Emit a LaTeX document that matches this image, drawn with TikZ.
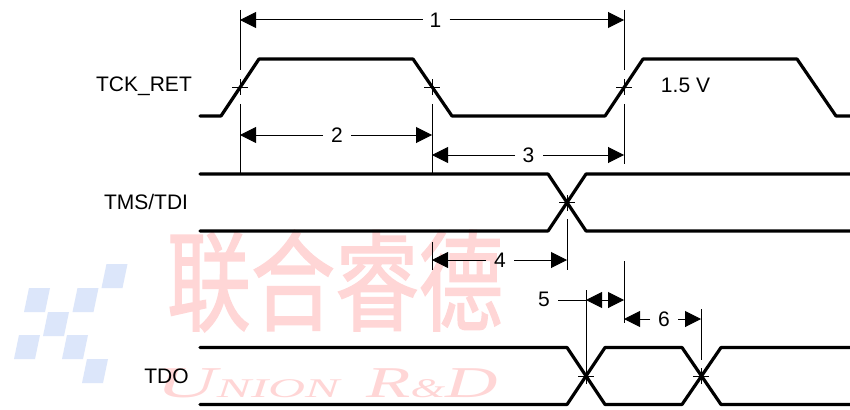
\documentclass[tikz,border=0pt]{standalone}
\usepackage{fontspec}
\setmainfont{Liberation Sans}
\newfontfamily\cjkwm[FakeBold=1.6]{Noto Sans CJK SC}
\newfontfamily\serifwm{Liberation Serif}
\usetikzlibrary{arrows.meta}
\definecolor{wmred}{HTML}{FFD6D6}
\definecolor{wmblue}{HTML}{DCE6FA}
\tikzset{
  wave/.style={line width=3.2pt,line join=round,line cap=round,black},
  thin line/.style={line width=1pt,black},
  tick/.style={line width=0.8pt,black},
  dim/.style={line width=1pt,black,-{Triangle[length=16pt,width=16pt]}},
  lab/.style={font=\fontsize{21}{24}\selectfont,inner sep=0pt,text=black},
  block/.style={fill=wmblue,draw=none},
}
\newcommand{\blockat}[2]{\fill[block] (#1,#2+24) -- ++(21,0) -- ++(5,-24) -- ++(-21,0) -- cycle;}
\newcommand{\tickat}[1]{\draw[tick] ([xshift=-8pt]#1) -- ([xshift=8pt]#1) ([yshift=-8pt]#1) -- ([yshift=8pt]#1);}
\begin{document}
\begin{tikzpicture}[x=1pt,y=-1pt]
\useasboundingbox[fill=white] (0,0) rectangle (850,409);
% watermark
\blockat{101.5}{264}
\blockat{24}{288}
\blockat{72.5}{288}
\blockat{43}{312}
\blockat{14}{335}
\blockat{62}{335}
\blockat{82}{359}
\node[text=wmred,font=\cjkwm\fontsize{84}{84}\selectfont,inner sep=0pt,yscale=1.3] (wmcn) at (335,281) {联合睿德};
\node[text=wmred,font=\serifwm\itshape\fontsize{44}{44}\selectfont,inner sep=0pt,xscale=1.9] (wmen) at (248,383) {U\fontsize{27}{27}\selectfont NION};
\node[text=wmred,font=\serifwm\itshape\fontsize{44}{44}\selectfont,inner sep=0pt,xscale=1.65] (wmrd) at (432,383) {R\fontsize{27}{27}\selectfont\&\fontsize{44}{44}\selectfont D};
% key points
\coordinate (t1) at (240,87);
\coordinate (t2) at (432,87);
\coordinate (t3) at (624,87);
\coordinate (x1) at (567,202.5);
\coordinate (x2) at (586,376);
\coordinate (x3) at (701,376);
% waveforms
\draw[wave] (200,116) -- (221,116) -- (259,59) -- (413,59) -- (452,116) -- (605,116) -- (643,59) -- (797,59) -- (836,116) -- (850,116);
\draw[wave] (200,174) -- (548,174) -- (586,231) -- (850,231);
\draw[wave] (200,231) -- (548,231) -- (586,174) -- (850,174);
\draw[wave] (200,347.5) -- (567,347.5) -- (605,404.5) -- (682,404.5) -- (721,347.5) -- (850,347.5);
\draw[wave] (200,404.5) -- (567,404.5) -- (605,347.5) -- (682,347.5) -- (721,404.5) -- (850,404.5);
% crossing ticks
\tickat{t1}\tickat{t2}\tickat{t3}\tickat{x1}\tickat{x2}\tickat{x3}
% extension lines
\draw[thin line] (240,10) -- (240,70) (240,104) -- (240,174);
\draw[thin line] (432,104) -- (432,174);
\draw[thin line] (624,10) -- (624,70) (624,104) -- (624,164);
\draw[thin line] (567,219) -- (567,270);
\draw[thin line] (432,242) -- (432,270);
\draw[thin line] (624,261) -- (624,323);
\draw[thin line] (586,290) -- (586,376);
\draw[thin line] (701,309) -- (701,360);
% labels
\node[lab] (n1) at (435.5,20) {1};
\node[lab] (n2) at (337,135) {2};
\node[lab] (n3) at (528.5,155) {3};
\node[lab] (n4) at (500,260) {4};
\node[lab] (n5) at (544,299) {5};
\node[lab] (n6) at (664,319) {6};
\node[lab] (tck) at (144,86) {TCK\_RET};
\node[lab] (tms) at (146,202) {TMS/TDI};
\node[lab] (tdo) at (166.5,376) {TDO};
\node[lab] (volt) at (685.5,85) {1.5 V};
% dimension arrows
\coordinate (a1l) at (240,20); \coordinate (a1r) at (624,20);
\coordinate (a2l) at (240,135); \coordinate (a2r) at (432,135);
\coordinate (a3l) at (432,155); \coordinate (a3r) at (624,155);
\coordinate (a4l) at (432,260); \coordinate (a4r) at (567,260);
\coordinate (a5l) at (586,300); \coordinate (a5m) at (605,300); \coordinate (a5r) at (624,300);
\coordinate (a6l) at (624,319); \coordinate (a6r) at (701,319);
\draw[dim] (n1.center) ++(-13,0) -- (a1l);
\draw[dim] (n1.center) ++(14,0) -- (a1r);
\draw[dim] (n2.center) ++(-14,0) -- (a2l);
\draw[dim] (n2.center) ++(14,0) -- (a2r);
\draw[dim] (n3.center) ++(-13.5,0) -- (a3l);
\draw[dim] (n3.center) ++(14.5,0) -- (a3r);
\draw[dim] (n4.center) ++(-14,0) -- (a4l);
\draw[dim] (n4.center) ++(14,0) -- (a4r);
\draw[thin line] (n5.center) ++(14,1) -- (a5l);
\draw[dim] (a5m) -- (a5l);
\draw[dim] (a5m) -- (a5r);
\draw[dim] (n6.center) ++(-14,0) -- (a6l);
\draw[dim] (n6.center) ++(14,0) -- (a6r);
\end{tikzpicture}
\end{document}
